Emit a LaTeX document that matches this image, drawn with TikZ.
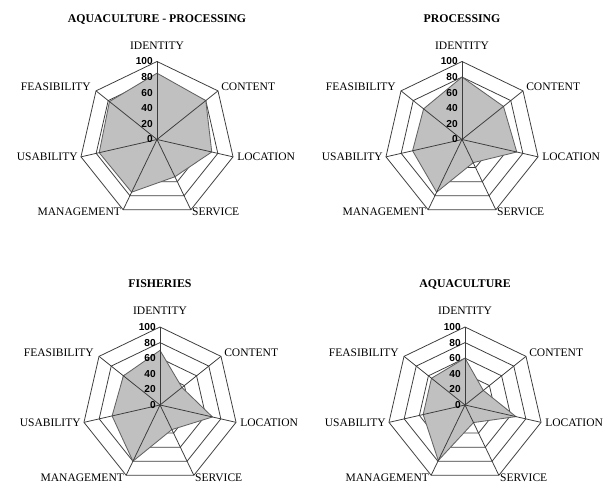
\documentclass[tikz,border=0pt]{standalone}
\usepackage{fontspec}
\setmainfont{Liberation Serif}
\newfontfamily\ticksans{Liberation Sans}
\usepackage{tikz}
\definecolor{areagray}{RGB}{192,192,192}
\definecolor{linegray}{RGB}{60,60,60}

% one radar chart: name, centre x, centre y, title, seven values
\newcommand{\radarchart}[5]{%
\begin{scope}[shift={(#2,#3)}]
  % rings
  \foreach \lv in {20,40,...,100}
    \draw[ring] (90:{\lv*0.78}) \foreach \k in {1,...,6}{ -- ({90-\k*360/7}:{\lv*0.78})} -- cycle;
  % data area
  \foreach \v [count=\k from 0] in {#5}
    \coordinate (#1-v\k) at ({90-\k*360/7}:{\v*0.78});
  \filldraw[area] (#1-v0) -- (#1-v1) -- (#1-v2) -- (#1-v3) -- (#1-v4) -- (#1-v5) -- (#1-v6) -- cycle;
  % spokes
  \coordinate (#1-c) at (0,0);
  \foreach \k in {0,...,6}{
    \coordinate (#1-a\k) at ({90-\k*360/7}:78);
    \draw[spoke] (#1-c) -- (#1-a\k);
  }
  % scale
  \foreach \lv in {0,20,...,100}
    \node[tick] (#1-t\lv) at (-4,{\lv*0.78}) {\lv};
  % axis names
  \node[axisname, anchor=base] (#1-identity) at ([shift={(0,12)}]#1-a0) {IDENTITY};
  \node[axisname, anchor=base west] (#1-content) at ([shift={(3,0)}]#1-a1) {CONTENT};
  \node[axisname, anchor=base west] (#1-location) at ([shift={(4,-4)}]#1-a2) {LOCATION};
  \node[axisname, anchor=base west] (#1-service) at ([shift={(1,-6)}]#1-a3) {SERVICE};
  \node[axisname, anchor=base east] (#1-management) at ([shift={(-2,-6)}]#1-a4) {MANAGEMENT};
  \node[axisname, anchor=base east] (#1-usability) at ([shift={(-3,-4)}]#1-a5) {USABILITY};
  \node[axisname, anchor=base east] (#1-feasibility) at ([shift={(-5,0)}]#1-a6) {FEASIBILITY};
  % title
  \node[charttitle] (#1-title) at (0,117) {#4};
\end{scope}}

\begin{document}
\begin{tikzpicture}[
    x=0.025cm, y=0.025cm,
    ring/.style={draw=linegray, line width=0.55pt},
    spoke/.style={draw=linegray, line width=0.55pt},
    area/.style={fill=areagray, draw=linegray!80, line width=0.6pt},
    tick/.style={anchor=east, inner sep=0pt, font=\ticksans\bfseries\fontsize{7.2}{8}\selectfont},
    axisname/.style={inner sep=0pt, font=\fontsize{8.2}{9}\selectfont},
    charttitle/.style={anchor=base, inner sep=0pt, font=\bfseries\fontsize{8.4}{9}\selectfont}
]
\path[use as bounding box, fill=white] (0,0) rectangle (610,485);

% top row
\radarchart{aqpr}{157}{345.5}{AQUACULTURE - PROCESSING}{85,80,72,53,75,76,78}
\radarchart{proc}{462}{345.5}{PROCESSING}{80,68,72,33,75,65,63}

% bottom row
\radarchart{fish}{160}{80}{FISHERIES}{70,36,69,35,80,63,60}
\radarchart{aqua}{465}{80}{AQUACULTURE}{60,30,67,25,79,55,55}

\end{tikzpicture}
\end{document}
